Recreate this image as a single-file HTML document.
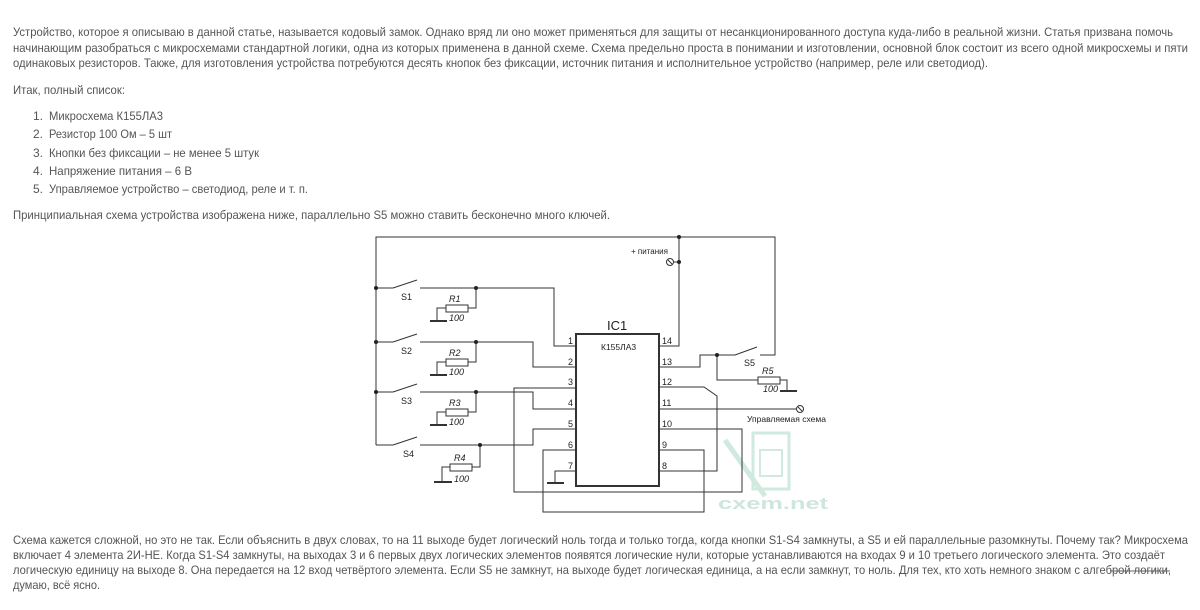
<!DOCTYPE html>
<html><head><meta charset="utf-8"><style>
html,body{margin:0;padding:0;background:#fff;width:1200px;height:610px;overflow:hidden}
svg{display:block}
.t{font-family:"Liberation Sans",sans-serif;font-size:12px;fill:#555}
.c{font-family:"Liberation Sans",sans-serif;fill:#222}
</style></head><body>
<svg width="1200" height="610" viewBox="0 0 1200 610" xmlns="http://www.w3.org/2000/svg">
<g class="t">
<text x="13" y="36" textLength="1160" lengthAdjust="spacingAndGlyphs">Устройство, которое я описываю в данной статье, называется кодовый замок. Однако  вряд ли оно может применяться для защиты от несанкционированного доступа куда-либо в реальной жизни. Статья призвана помочь</text>
<text x="13" y="52" textLength="1175" lengthAdjust="spacingAndGlyphs">начинающим разобраться с микросхемами стандартной логики, одна из которых применена в данной схеме. Схема предельно проста в понимании и изготовлении, основной блок состоит из всего одной микросхемы и пяти</text>
<text x="13" y="67" textLength="975" lengthAdjust="spacingAndGlyphs">одинаковых резисторов. Также, для изготовления устройства потребуются десять кнопок без фиксации, источник питания и исполнительное устройство (например, реле или светодиод).</text>
<text x="13" y="94" textLength="112" lengthAdjust="spacingAndGlyphs">Итак, полный список:</text>
<text x="33" y="120">1.</text><text x="49" y="120" textLength="114" lengthAdjust="spacingAndGlyphs">Микросхема К155ЛА3</text>
<text x="33" y="138">2.</text><text x="49" y="138" textLength="123" lengthAdjust="spacingAndGlyphs">Резистор 100 Ом – 5 шт</text>
<text x="33" y="157">3.</text><text x="49" y="157" textLength="210" lengthAdjust="spacingAndGlyphs">Кнопки без фиксации – не менее 5 штук</text>
<text x="33" y="175">4.</text><text x="49" y="175" textLength="143" lengthAdjust="spacingAndGlyphs">Напряжение питания – 6 В</text>
<text x="33" y="193">5.</text><text x="49" y="193" textLength="259" lengthAdjust="spacingAndGlyphs">Управляемое устройство – светодиод, реле и т. п.</text>
<text x="13" y="219" textLength="597" lengthAdjust="spacingAndGlyphs">Принципиальная схема устройства изображена ниже, параллельно S5 можно ставить бесконечно много ключей.</text>
<text x="13" y="544" textLength="1175" lengthAdjust="spacingAndGlyphs">Схема кажется сложной, но это не так. Если объяснить в двух словах, то на 11 выходе будет логический ноль тогда и только тогда, когда кнопки S1-S4 замкнуты, а S5 и ей параллельные разомкнуты. Почему так?  Микросхема</text>
<text x="13" y="559" textLength="1152" lengthAdjust="spacingAndGlyphs">включает 4 элемента 2И-НЕ. Когда S1-S4 замкнуты, на выходах 3 и 6 первых двух логических элементов появятся логические нули, которые устанавливаются на входах 9 и 10 третьего логического элемента. Это создаёт</text>
<text x="13" y="574" textLength="1158" lengthAdjust="spacingAndGlyphs">логическую единицу на выходе 8. Она передается на 12 вход четвёртого элемента. Если S5 не замкнут, на выходе будет логическая единица, а на если замкнут, то ноль. Для тех, кто хоть немного знаком с алгеброй логики,</text>
<text x="13" y="589" textLength="87" lengthAdjust="spacingAndGlyphs">думаю, всё ясно.</text>
</g>
<line x1="1110" y1="571" x2="1170" y2="571" stroke="#666" stroke-width="1"/>
<!-- watermark -->
<g opacity="0.35" fill="none" stroke="#7cc4a8" stroke-width="5">
<line x1="725" y1="440" x2="765" y2="496"/>
<rect x="753" y="433" width="36" height="56" stroke-width="3"/>
<rect x="760" y="450" width="22" height="26" stroke-width="2"/>
</g>
<text x="718" y="509" font-family="Liberation Sans,sans-serif" font-weight="bold" font-size="17" fill="#cfe6dc" textLength="110" lengthAdjust="spacingAndGlyphs">cxem.net</text>
<!-- circuit -->
<g stroke="#333" stroke-width="1" fill="none">
<polyline points="376,445 376,237 775,237 775,355 760,355"/>
<polyline points="679,237 679,346 659,346"/>
<line x1="673" y1="262" x2="679" y2="262"/>
<circle cx="670" cy="262" r="3.5"/><line x1="668" y1="260" x2="672" y2="264"/>
<!-- switches -->
<line x1="376" y1="288" x2="393" y2="288"/><line x1="393" y1="288" x2="417" y2="280"/>
<polyline points="420,288 554,288 554,346 576,346"/>
<line x1="376" y1="342" x2="393" y2="342"/><line x1="393" y1="342" x2="417" y2="334"/>
<polyline points="420,342 533,342 533,367 576,367"/>
<line x1="376" y1="392" x2="393" y2="392"/><line x1="393" y1="392" x2="417" y2="384"/>
<polyline points="420,392 533,392 533,409 576,409"/>
<line x1="376" y1="445" x2="393" y2="445"/><line x1="393" y1="445" x2="417" y2="437"/>
<polyline points="420,445 533,445 533,429 576,429"/>
<!-- resistors -->
<polyline points="476,288 476,308 468,308"/><rect x="446" y="305" width="22" height="7"/><polyline points="446,308 437,308 437,321"/><line x1="430" y1="321" x2="447" y2="321" stroke-width="2"/>
<polyline points="476,342 476,362 468,362"/><rect x="446" y="359" width="22" height="7"/><polyline points="446,362 437,362 437,375"/><line x1="430" y1="375" x2="447" y2="375" stroke-width="2"/>
<polyline points="476,392 476,412 468,412"/><rect x="446" y="409" width="22" height="7"/><polyline points="446,412 437,412 437,425"/><line x1="430" y1="425" x2="447" y2="425" stroke-width="2"/>
<polyline points="480,445 480,467 472,467"/><rect x="450" y="464" width="22" height="7"/><polyline points="450,467 442,467 442,482"/><line x1="434" y1="482" x2="452" y2="482" stroke-width="2"/>
<!-- IC -->
<rect x="576" y="334" width="83" height="152" stroke-width="2"/>
<polyline points="576,388 514,388 514,492 742,492 742,429 659,429"/>
<polyline points="576,450 543,450 543,512 704,512 704,450 659,450"/>
<polyline points="576,471 555,471 555,483"/><line x1="547" y1="483" x2="564" y2="483" stroke-width="2"/>
<polyline points="659,387 704,387 717,396 717,471 659,471"/>
<line x1="659" y1="409" x2="797" y2="409"/>
<circle cx="800" cy="409" r="3.5"/><line x1="798" y1="407" x2="802" y2="411"/>
<polyline points="659,367 700,367 700,355 735,355"/><line x1="735" y1="355" x2="757" y2="347"/>
<polyline points="717,355 717,380 758,380"/><rect x="758" y="377" width="22" height="7"/><polyline points="780,380 787,380 787,391"/><line x1="780" y1="391" x2="797" y2="391" stroke-width="2"/>
</g>
<g fill="#222">
<circle cx="376" cy="288" r="2"/><circle cx="376" cy="342" r="2"/><circle cx="376" cy="392" r="2"/>
<circle cx="476" cy="288" r="2"/><circle cx="476" cy="342" r="2"/><circle cx="476" cy="392" r="2"/><circle cx="480" cy="445" r="2"/>
<circle cx="679" cy="237" r="2"/><circle cx="679" cy="262" r="2"/><circle cx="717" cy="355" r="2"/>
</g>
<g class="c" font-size="9">
<text x="401" y="300">S1</text><text x="401" y="354">S2</text><text x="401" y="404">S3</text><text x="403" y="457">S4</text>
<text x="449" y="302" font-style="italic">R1</text><text x="449" y="321" font-style="italic">100</text>
<text x="449" y="356" font-style="italic">R2</text><text x="449" y="375" font-style="italic">100</text>
<text x="449" y="406" font-style="italic">R3</text><text x="449" y="425" font-style="italic">100</text>
<text x="454" y="461" font-style="italic">R4</text><text x="454" y="482" font-style="italic">100</text>
<text x="744" y="366">S5</text>
<text x="762" y="374" font-style="italic">R5</text><text x="763" y="392" font-style="italic">100</text>
<text x="747" y="422" font-size="8.5">Управляемая схема</text>
<text x="631" y="254" font-size="8">+ питания</text>
<text x="601" y="350" font-size="8.5">К155ЛА3</text>
<text x="607" y="330" font-size="13">IC1</text>
<g text-anchor="end"><text x="573" y="344">1</text><text x="573" y="365">2</text><text x="573" y="385">3</text><text x="573" y="406">4</text><text x="573" y="427">5</text><text x="573" y="448">6</text><text x="573" y="469">7</text></g>
<text x="662" y="344">14</text><text x="662" y="365">13</text><text x="662" y="385">12</text><text x="662" y="406">11</text><text x="662" y="427">10</text><text x="662" y="448">9</text><text x="662" y="469">8</text>
</g>
</svg>
</body></html>
